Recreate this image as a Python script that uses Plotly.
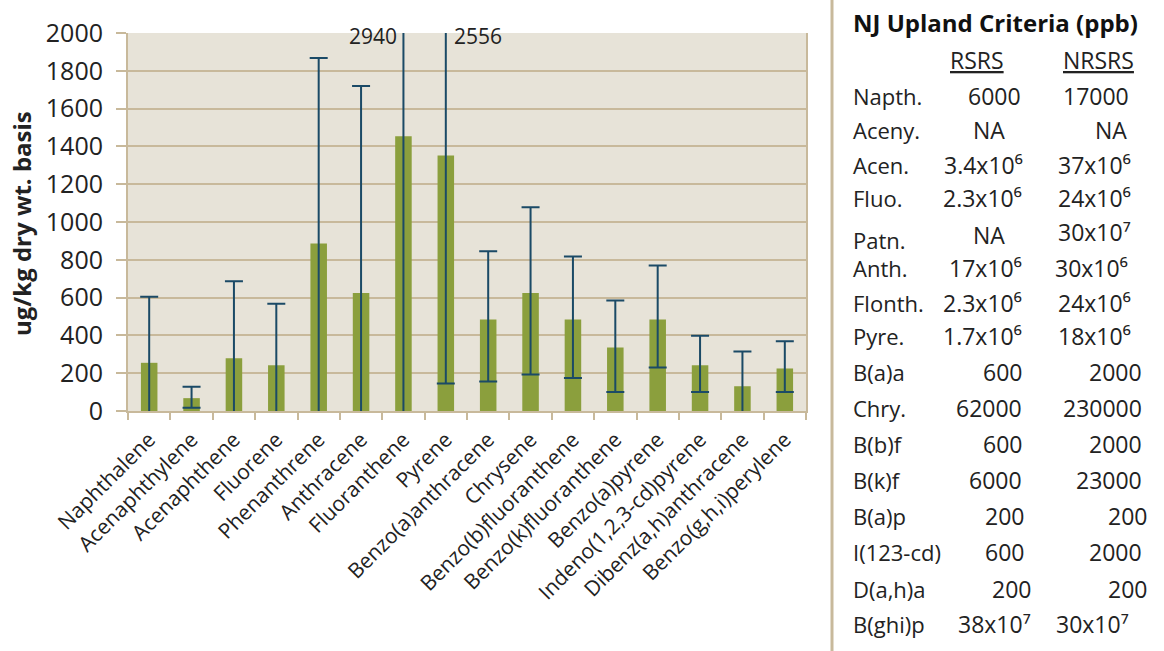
import plotly.graph_objects as go

# ---------------- data ----------------
categories = ["Naphthalene", "Acenaphthylene", "Acenaphthene", "Fluorene", "Phenanthrene",
              "Anthracene", "Fluoranthene", "Pyrene", "Benzo(a)anthracene", "Chrysene",
              "Benzo(b)fluoranthene", "Benzo(k)fluoranthene", "Benzo(a)pyrene",
              "Indeno(1,2,3-cd)pyrene", "Dibenz(a,h)anthracene", "Benzo(g,h,i)perylene"]
means = [255, 68, 279, 242, 886, 625, 1454, 1352, 484, 625, 484, 336, 484, 242, 131, 225]
upper = [604, 128, 687, 567, 1868, 1720, 2940, 2556, 845, 1078, 817, 585, 770, 398, 315, 369]
lower = [-94, 17, -129, -83, -96, -470, -32, 145, 156, 193, 175, 100, 230, 100, -53, 100]

y_title = "ug/kg dry wt. basis"
y_max = 2000

table_title = "NJ Upland Criteria (ppb)"
table_headers = ["RSRS", "NRSRS"]
table_labels = ["Napth.", "Aceny.", "Acen.", "Fluo.", "Patn.", "Anth.", "Flonth.", "Pyre.",
                "B(a)a", "Chry.", "B(b)f", "B(k)f", "B(a)p", "I(123-cd)", "D(a,h)a", "B(ghi)p"]
rsrs = ["6000", "NA", "3.4x10⁶", "2.3x10⁶", "NA", "17x10⁶",
        "2.3x10⁶", "1.7x10⁶", "600", "62000", "600", "6000", "200",
        "600", "200", "38x10⁷"]
nrsrs = ["17000", "NA", "37x10⁶", "24x10⁶", "30x10⁷",
         "30x10⁶", "24x10⁶", "18x10⁶", "2000", "230000", "2000",
         "23000", "200", "2000", "200", "30x10⁷"]

# ---------------- style / layout ----------------
W, H = 1164, 651
L, R, T, B = 128, 358, 33, 240
PW, PH = W - L - R, H - T - B
FONT = "Open Sans"
TXT = "#222222"
TAN = "#c8b99b"
BAR = "#8b9f3d"
ERR = "#1b4a66"
BG = "#e7e3d8"


def px(xp):
    return (xp - L) / PW


def py(yp):
    return (H - B - yp) / PH


err_plus = [u - m for u, m in zip(upper, means)]
err_minus = [m - l for m, l in zip(means, lower)]

fig = go.Figure(go.Bar(
    x=categories, y=means, marker_color=BAR, marker_line_width=0,
    error_y=dict(type="data", symmetric=False, array=err_plus, arrayminus=err_minus,
                 color=ERR, thickness=2, width=9),
))

annotations = []
# values beyond the axis
sides = {6: ("right", -4), 7: ("left", 6)}
for i, (c, u) in enumerate(zip(categories, upper)):
    if u > y_max:
        anc, sh = sides.get(i, ("left", 6))
        annotations.append(dict(x=c, y=y_max, xref="x", yref="y", text=str(u), showarrow=False,
                                xanchor=anc, yanchor="middle", xshift=sh, yshift=-3,
                                font=dict(family=FONT, size=21, color=TXT)))

# y axis title
annotations.append(dict(x=px(21), y=py(224), xref="paper", yref="paper", text="<b>%s</b>" % y_title,
                        textangle=-90, showarrow=False, xanchor="center", yanchor="middle",
                        font=dict(family=FONT, size=24, color=TXT)))

# criteria table
annotations.append(dict(x=px(851), y=py(23), xref="paper", yref="paper", text="<b>%s</b>" % table_title,
                        showarrow=False, xanchor="left", yanchor="middle",
                        font=dict(family=FONT, size=24, color="#111111")))
annotations.append(dict(x=px(1006), y=py(60), xref="paper", yref="paper", text="<u>%s</u>" % table_headers[0],
                        showarrow=False, xanchor="right", yanchor="middle",
                        font=dict(family=FONT, size=23, color=TXT)))
annotations.append(dict(x=px(1136), y=py(60), xref="paper", yref="paper", text="<u>%s</u>" % table_headers[1],
                        showarrow=False, xanchor="right", yanchor="middle",
                        font=dict(family=FONT, size=23, color=TXT)))

row_y = [96, 130, 165, 198, 240, 268, 303, 336, 372, 408, 444, 480, 516, 552, 589, 624]
rs_y = [96, 130, 165, 198, 235, 268, 303, 336, 372, 408, 444, 480, 516, 552, 589, 624]
nr_y = [96, 130, 165, 198, 232, 268, 303, 336, 372, 408, 444, 480, 516, 552, 589, 624]
rs_x = [1023, 1007, 1025, 1024, 1007, 1024, 1024, 1024, 1024, 1024, 1024, 1024, 1026, 1026, 1033, 1033]
nr_x = [1131, 1129, 1133, 1133, 1133, 1130, 1133, 1133, 1144, 1144, 1144, 1144, 1149, 1144, 1149, 1131]
for i, lab in enumerate(table_labels):
    annotations.append(dict(x=px(851), y=py(row_y[i]), xref="paper", yref="paper", text=lab,
                            showarrow=False, xanchor="left", yanchor="middle",
                            font=dict(family=FONT, size=22, color=TXT)))
    annotations.append(dict(x=px(rs_x[i]), y=py(rs_y[i]), xref="paper", yref="paper", text=rsrs[i],
                            showarrow=False, xanchor="right", yanchor="middle",
                            font=dict(family=FONT, size=23, color=TXT)))
    annotations.append(dict(x=px(nr_x[i]), y=py(nr_y[i]), xref="paper", yref="paper", text=nrsrs[i],
                            showarrow=False, xanchor="right", yanchor="middle",
                            font=dict(family=FONT, size=23, color=TXT)))

shapes = [dict(type="line", xref="paper", yref="paper", x0=px(832), x1=px(832), y0=py(0), y1=py(H),
               line=dict(color=TAN, width=3))]

fig.update_layout(
    width=W, height=H, margin=dict(l=L, r=R, t=T, b=B, autoexpand=False),
    paper_bgcolor="white", plot_bgcolor=BG, showlegend=False,
    bargap=0.61, font=dict(family=FONT, color=TXT),
    annotations=annotations, shapes=shapes,
    xaxis=dict(tickangle=-45, tickfont=dict(family=FONT, size=21, color=TXT),
               tickson="boundaries", ticks="outside", ticklen=7, tickwidth=2, tickcolor=TAN,
               ticklabelstandoff=6,
               showline=True, linecolor=TAN, linewidth=2, showgrid=False, automargin=False),
    yaxis=dict(range=[0, y_max], dtick=200, tickfont=dict(family=FONT, size=25, color=TXT),
               ticks="outside", ticklen=10, tickwidth=2, tickcolor=TAN, ticklabelstandoff=8,
               showline=True, linecolor=TAN, linewidth=2, mirror=True,
               showgrid=True, gridcolor=TAN, gridwidth=2, zeroline=False, automargin=False),
)

fig.write_html("out.html", config={"displayModeBar": False},
               post_script="document.body.style.margin='0';document.body.style.overflow='hidden';")
